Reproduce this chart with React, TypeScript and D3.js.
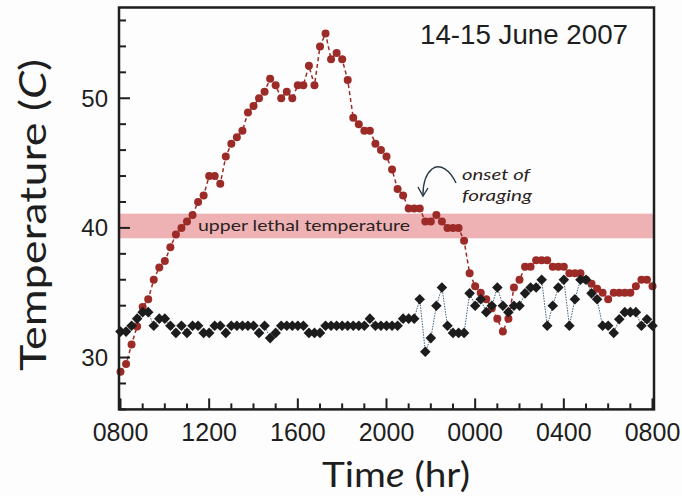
import React from "react";
import * as d3 from "d3";

const W = 682;
const H = 496;

// 15-minute readings, 0800 on 14 June to 0800 on 15 June
const STEP_HR = 0.25;
const xTickLabels = ["0800", "1200", "1600", "2000", "0000", "0400", "0800"];
const yTickValues = [30, 40, 50];
const title = "14-15 June 2007";

// red circles (substrate temperature)
const groundTemp = [
  28.9, 29.5, 31.0, 32.4, 33.9, 34.5, 36.0, 36.95, 37.45, 38.5,
  39.5, 40.0, 40.5, 41.0, 42.0, 42.5, 44.0, 44.0, 43.4, 45.5,
  46.5, 47.0, 47.5, 48.9, 49.4, 50.0, 50.5, 51.5, 51.0, 50.0,
  50.5, 50.0, 51.0, 51.0, 52.5, 51.0, 54.0, 55.0, 53.0, 53.5,
  53.0, 51.4, 48.5, 48.0, 47.5, 47.5, 46.5, 46.0, 45.5, 44.5,
  43.0, 42.5, 41.5, 41.5, 41.5, 40.5, 40.5, 41.0, 40.5, 40.0,
  40.0, 40.0, 39.0, 36.5, 35.5, 35.0, 34.5, 33.8, 33.0, 32.0,
  33.0, 35.4, 36.0, 37.0, 37.0, 37.5, 37.5, 37.5, 37.0, 37.0,
  37.0, 36.5, 36.5, 36.5, 36.0, 35.7, 35.3, 35.0, 34.5, 35.0,
  35.0, 35.0, 35.0, 35.5, 36.0, 36.0, 35.5,
];

// black diamonds (body temperature)
const bodyTemp = [
  32.0, 32.0, 32.45, 33.0, 33.5, 33.5, 32.45, 33.0, 33.0, 32.45,
  31.9, 32.45, 31.9, 32.45, 32.45, 31.9, 31.9, 32.45, 32.45, 31.9,
  32.45, 32.45, 32.45, 32.45, 32.45, 31.9, 32.45, 31.5, 31.9, 32.45,
  32.45, 32.45, 32.45, 32.45, 31.9, 31.9, 31.9, 32.45, 32.45, 32.45,
  32.45, 32.45, 32.45, 32.45, 32.45, 33.0, 32.45, 32.45, 32.45, 32.45,
  32.45, 33.0, 33.0, 33.0, 34.5, 30.45, 31.5, 34.0, 35.4, 32.45,
  31.9, 31.9, 31.9, 34.95, 34.0, 34.5, 33.5, 34.0, 35.4, 34.0,
  33.5, 34.0, 34.0, 34.95, 35.4, 35.4, 36.0, 32.45, 34.0, 35.4,
  36.0, 32.45, 34.5, 36.0, 36.0, 34.95, 34.5, 32.45, 32.45, 31.9,
  32.95, 33.5, 33.5, 33.5, 32.45, 32.95, 32.45,
];

const lethalBand = [39.2, 41.1];

const RED = "#9c2b27";
const INK = "#1e1e1e";
const HAND = "Lato, 'Open Sans', sans-serif";

export default function App() {
  const plotLeft = 119;
  const plotRight = 654;
  const plotTop = 7.5;
  const plotBottom = 409.4;

  const x = d3.scaleLinear().domain([0, 24]).range([120.5, 652.5]);
  const y = d3.scaleLinear().domain([26, 57]).range([plotBottom, plotTop]);

  const t = (i: number) => i * STEP_HR;

  const line = d3
    .line<number>()
    .x((d, i) => x(t(i)))
    .y((d) => y(d));

  const diamond = d3.symbol().type(d3.symbolSquare).size(56)();

  const majorX = d3.range(0, 25, 4);
  const minorX = d3.range(0, 25, 1).filter((h) => h % 4 !== 0);
  const minorY = d3.range(26, 57, 2).filter((v) => v % 10 !== 0);

  return (
    <svg
      width={W}
      height={H}
      style={{ position: "absolute", left: 0, top: 0, background: "#fdfdfd" }}
    >
      {/* lethal band */}
      <rect
        x={plotLeft}
        y={y(lethalBand[1])}
        width={plotRight - plotLeft}
        height={y(lethalBand[0]) - y(lethalBand[1])}
        fill="#efb2b4"
      />
      <text
        x={198}
        y={y((lethalBand[0] + lethalBand[1]) / 2) + 5}
        fontFamily={HAND}
        fontSize={16}
        fill="#2b2222"
        textLength={212}
        lengthAdjust="spacingAndGlyphs"
      >
        upper lethal temperature
      </text>

      {/* ground temperature */}
      <path
        d={line(groundTemp) || ""}
        fill="none"
        stroke={RED}
        strokeWidth={1.5}
        strokeDasharray="4,3"
      />
      {groundTemp.map((d, i) => (
        <circle key={"g" + i} cx={x(t(i))} cy={y(d)} r={4} fill={RED} />
      ))}

      {/* body temperature */}
      <path
        d={line(bodyTemp) || ""}
        fill="none"
        stroke="#3d5f78"
        strokeWidth={1}
        strokeDasharray="1.5,1.2"
      />
      {bodyTemp.map((d, i) => (
        <path
          key={"b" + i}
          d={diamond || ""}
          transform={`translate(${x(t(i))},${y(d)}) rotate(45)`}
          fill="#1c1c1c"
        />
      ))}

      {/* frame */}
      <rect
        x={plotLeft}
        y={plotTop}
        width={plotRight - plotLeft}
        height={plotBottom - plotTop}
        fill="none"
        stroke={INK}
        strokeWidth={2.5}
      />

      {/* y ticks */}
      {yTickValues.map((v) => (
        <g key={"yt" + v}>
          <line x1={plotLeft} x2={plotLeft + 11} y1={y(v)} y2={y(v)} stroke={INK} strokeWidth={2} />
          <text
            x={108}
            y={y(v) + 8.5}
            textAnchor="end"
            fontFamily="'Liberation Sans', Arial, sans-serif"
            fontSize={24}
            fill={INK}
          >
            {v}
          </text>
        </g>
      ))}
      {minorY.map((v) => (
        <line key={"ym" + v} x1={plotLeft} x2={plotLeft + 7} y1={y(v)} y2={y(v)} stroke={INK} strokeWidth={2} />
      ))}

      {/* x ticks */}
      {majorX.map((h, i) => (
        <g key={"xt" + h}>
          <line x1={x(h)} x2={x(h)} y1={plotBottom} y2={plotBottom - 11} stroke={INK} strokeWidth={2} />
          <text
            x={x(h)}
            y={441}
            textAnchor="middle"
            fontFamily="'Liberation Sans Narrow', 'Liberation Sans', Arial, sans-serif"
            fontSize={25}
            fill={INK}
          >
            {xTickLabels[i]}
          </text>
        </g>
      ))}
      {minorX.map((h) => (
        <line key={"xm" + h} x1={x(h)} x2={x(h)} y1={plotBottom} y2={plotBottom - 6} stroke={INK} strokeWidth={2} />
      ))}

      {/* title */}
      <text
        x={420}
        y={44}
        fontFamily="'Liberation Sans', Arial, sans-serif"
        fontSize={27}
        fill={INK}
        textLength={208}
        lengthAdjust="spacingAndGlyphs"
      >
        {title}
      </text>

      {/* onset of foraging annotation */}
      <path
        d="M456,183 C450,170 440,163 432,169 C426,174 423,183 423,195"
        fill="none"
        stroke="#2a3a44"
        strokeWidth={1.4}
      />
      <path d="M418,187 L423,196 L428,188" fill="none" stroke="#2a3a44" strokeWidth={1.4} />
      <text x={462} y={180} fontFamily={HAND} fontStyle="italic" fontSize={15} fill="#2b2222" textLength={68} lengthAdjust="spacingAndGlyphs">
        onset of
      </text>
      <text x={462} y={201} fontFamily={HAND} fontStyle="italic" fontSize={15} fill="#2b2222" textLength={70} lengthAdjust="spacingAndGlyphs">
        foraging
      </text>

      {/* axis titles */}
      <text
        transform={`translate(46,${(58 + 372) / 2}) rotate(-90)`}
        textAnchor="middle"
        fontFamily={HAND}
        fontSize={36}
        fill={INK}
        textLength={312}
        lengthAdjust="spacingAndGlyphs"
      >
        Temperature (<tspan fontStyle="italic">C</tspan>)
      </text>
      <text
        x={(322 + 470) / 2}
        y={487}
        textAnchor="middle"
        fontFamily={HAND}
        fontSize={34}
        fill={INK}
        textLength={148}
        lengthAdjust="spacingAndGlyphs"
      >
        Tim<tspan fontStyle="italic">e</tspan> (hr)
      </text>
    </svg>
  );
}
